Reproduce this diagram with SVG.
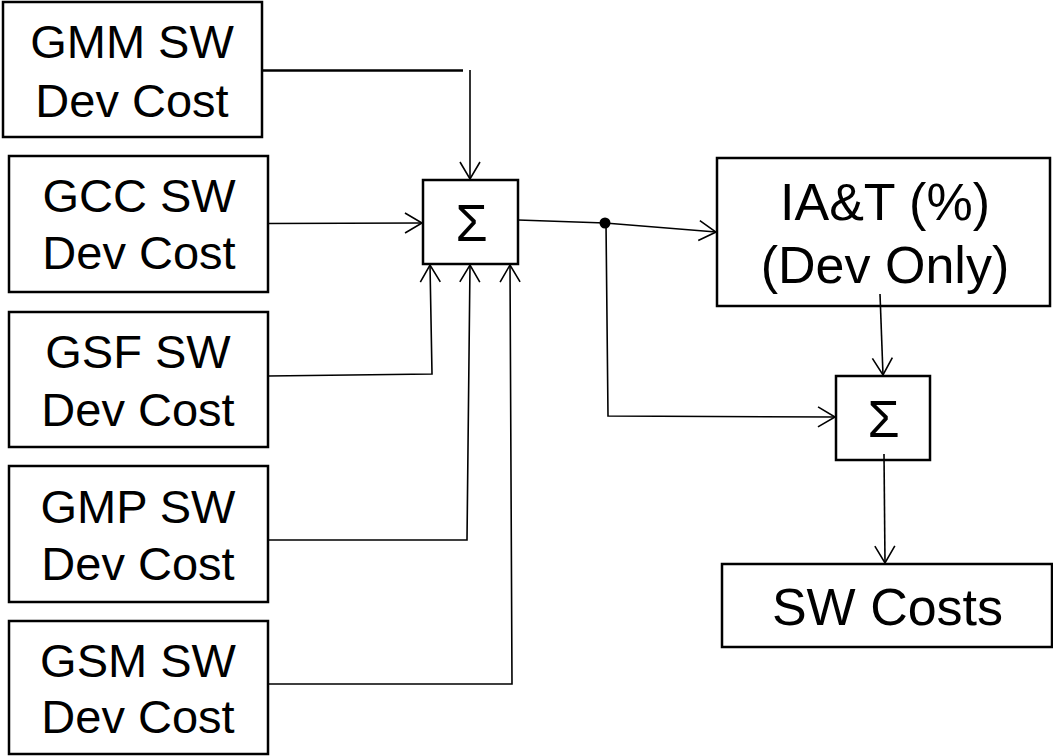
<svg xmlns="http://www.w3.org/2000/svg" width="1053" height="756" viewBox="0 0 1053 756">
  <style>
    .box { fill: #ffffff; stroke: #000000; stroke-width: 2.5; }
    .lbl { font-family: "Liberation Sans", Arial, sans-serif; font-size: 47px; fill: #000000; text-anchor: middle; }
    .big { font-size: 52px; }
    .conn { fill: none; stroke: #000000; stroke-width: 1.6; }
  </style>
  <defs>
    <marker id="arr" markerUnits="userSpaceOnUse" markerWidth="24" markerHeight="24" viewBox="-20 -12 22 24" refX="0" refY="0" orient="auto">
      <path d="M-17,-10 L0,0 L-17,10" fill="none" stroke="#000000" stroke-width="1.6"/>
    </marker>
  </defs>
  <rect width="1053" height="756" fill="#ffffff"/>

  <g id="gmm">
    <rect class="box" x="3" y="2" width="259" height="135"/>
    <text class="lbl" x="132" y="58">GMM SW</text>
    <text class="lbl" x="132" y="117">Dev Cost</text>
  </g>
  <g id="gcc">
    <rect class="box" x="9" y="156" width="259" height="136"/>
    <text class="lbl" x="139" y="212">GCC SW</text>
    <text class="lbl" x="139" y="269">Dev Cost</text>
  </g>
  <g id="gsf">
    <rect class="box" x="9" y="312" width="259" height="135"/>
    <text class="lbl" x="138" y="368">GSF SW</text>
    <text class="lbl" x="138" y="426">Dev Cost</text>
  </g>
  <g id="gmp">
    <rect class="box" x="9" y="466" width="259" height="136"/>
    <text class="lbl" x="138" y="523">GMP SW</text>
    <text class="lbl" x="138" y="580">Dev Cost</text>
  </g>
  <g id="gsm">
    <rect class="box" x="9" y="621" width="259" height="133"/>
    <text class="lbl" x="138" y="677">GSM SW</text>
    <text class="lbl" x="138" y="733">Dev Cost</text>
  </g>
  <g id="sum1">
    <rect class="box" x="423" y="180" width="95" height="84"/>
    <text class="lbl big" x="471.5" y="241">Σ</text>
  </g>
  <g id="iat">
    <rect class="box" x="717" y="158" width="333" height="148"/>
    <text class="lbl big" x="885" y="220">IA&amp;T (%)</text>
    <text class="lbl big" x="885" y="283">(Dev Only)</text>
  </g>
  <g id="sum2">
    <rect class="box" x="836" y="376" width="94" height="84"/>
    <text class="lbl big" x="883.5" y="437">Σ</text>
  </g>
  <g id="swcosts">
    <rect class="box" x="722" y="564" width="330" height="83"/>
    <text class="lbl big" x="887.5" y="625">SW Costs</text>
  </g>

  <g id="connectors">
    <line x1="262" y1="70.5" x2="463" y2="70.5" stroke="#000000" stroke-width="2.5"/>
    <line class="conn" x1="470" y1="70" x2="470" y2="179" marker-end="url(#arr)"/>
    <line class="conn" x1="268" y1="223.5" x2="422" y2="223" marker-end="url(#arr)"/>
    <polyline class="conn" points="268,376 432,374 430,265" marker-end="url(#arr)"/>
    <polyline class="conn" points="268,540 467,540 470,265" marker-end="url(#arr)"/>
    <polyline class="conn" points="268,684 512,684 510,265" marker-end="url(#arr)"/>
    <polyline class="conn" points="518,220 605,223 716,232" marker-end="url(#arr)"/>
    <circle cx="605" cy="223" r="5.5" fill="#000000"/>
    <polyline class="conn" points="606,223 608,416 835,417" marker-end="url(#arr)"/>
    <line class="conn" x1="880" y1="294" x2="883" y2="375" marker-end="url(#arr)"/>
    <line class="conn" x1="884" y1="454" x2="885" y2="563" marker-end="url(#arr)"/>
  </g>
</svg>
